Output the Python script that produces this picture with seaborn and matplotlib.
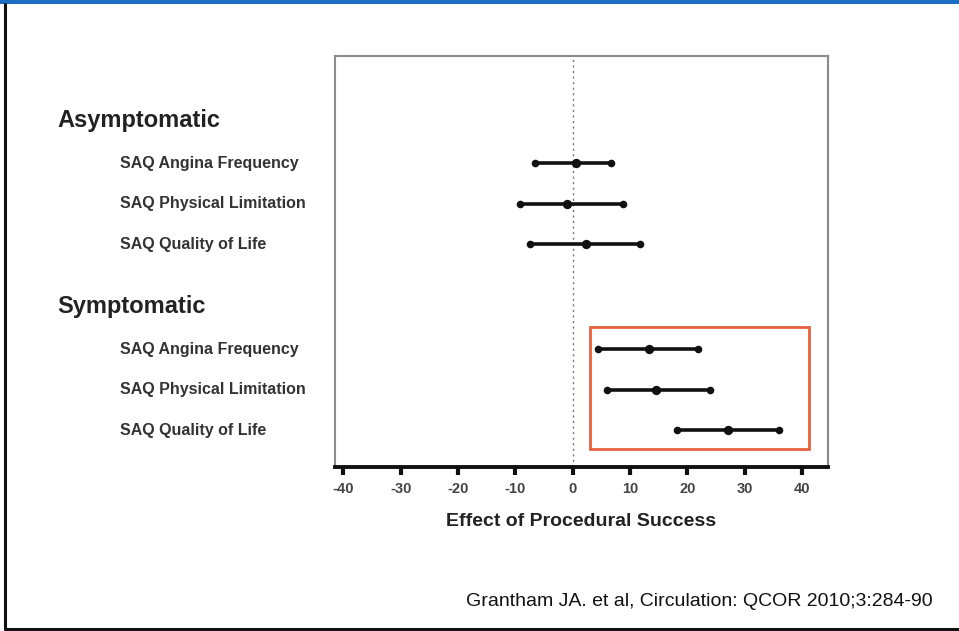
"""
Forest plot - effect of procedural success on SAQ scores.
"""

import matplotlib
matplotlib.use("Agg")
import matplotlib.pyplot as plt
import matplotlib.transforms as mtransforms
from matplotlib.lines import Line2D
from matplotlib.patches import Rectangle
import seaborn as sns
import pandas as pd

# Data
groups = ["Asymptomatic", "Symptomatic"]
outcomes = ["SAQ Angina Frequency", "SAQ Physical Limitation", "SAQ Quality of Life"]
asym_mean = [0.6, -1.0, 2.4]
asym_low = [-6.6, -9.2, -7.5]
asym_high = [6.7, 8.8, 11.7]
sym_mean = [13.4, 14.6, 27.2]
sym_low = [4.4, 6.0, 18.3]
sym_high = [21.8, 24.0, 36.1]
x_ticks = [-40, -30, -20, -10, 0, 10, 20, 30, 40]
citation = "Grantham JA. et al, Circulation: QCOR 2010;3:284-90"

sns.set_style("white")
plt.rcParams['font.family'] = ['Liberation Sans', 'DejaVu Sans']

# Build a long table, rows placed with a gap between groups
group_gap = 1.6
rows = []
for g, (means, lows, highs) in enumerate([(asym_mean, asym_low, asym_high),
                                          (sym_mean, sym_low, sym_high)]):
    for i, name in enumerate(outcomes):
        rows.append({
            "group": groups[g],
            "outcome": name,
            "mean": means[i],
            "low": lows[i],
            "high": highs[i],
            "ypos": g * (len(outcomes) + group_gap) + i,
        })
df = pd.DataFrame(rows)

fig = plt.figure(figsize=(9.59, 6.31), dpi=100)
ax = fig.add_axes([0.349, 0.260, 0.514, 0.651])

# zero reference
ax.axvline(0, color="#777777", linestyle=(0, (1.5, 2.5)), linewidth=1.0, zorder=1)

# CI lines
ax.hlines(df["ypos"], df["low"], df["high"], color="#111111", linewidth=2.6, zorder=2)
ends = pd.concat([df[["low", "ypos"]].rename(columns={"low": "x"}),
                  df[["high", "ypos"]].rename(columns={"high": "x"})])
sns.scatterplot(data=ends, x="x", y="ypos", ax=ax, color="#111111", s=30,
                marker="o", edgecolor="#111111", linewidth=0, zorder=3, legend=False)
sns.scatterplot(data=df, x="mean", y="ypos", ax=ax, color="#111111", s=45,
                marker="o", edgecolor="#111111", linewidth=0, zorder=3, legend=False)

# highlight box around symptomatic results
sym = df[df["group"] == "Symptomatic"]
ax.add_patch(Rectangle((3.0, sym["ypos"].min() - 0.55), 38.3,
                       sym["ypos"].max() - sym["ypos"].min() + 1.0,
                       fill=False, edgecolor="#E8603C", linewidth=2.0, zorder=4))

ax.set_xlim(-41.5, 44.5)
ax.set_ylim(7.5, -2.64)
ax.set_xticks(x_ticks)
ax.set_xticklabels([str(t) for t in x_ticks], fontsize=10.5, fontweight="bold", color="#444444")
ax.set_yticks([])
ax.set_xlabel("Effect of Procedural Success", fontsize=14, fontweight="bold",
              color="#222222", labelpad=12)
ax.set_ylabel("")
ax.tick_params(axis="x", bottom=True, direction="out", length=6, width=3,
               color="#111111", pad=5)

for side in ["top", "left", "right"]:
    ax.spines[side].set_color("#8a8a8a")
    ax.spines[side].set_linewidth(1.5)
ax.spines["bottom"].set_color("#111111")
ax.spines["bottom"].set_linewidth(2.8)

# row labels and group headers, x in figure coords, y in data coords
label_tf = mtransforms.blended_transform_factory(fig.transFigure, ax.transData)
for g, grp in enumerate(groups):
    sub = df[df["group"] == grp]
    ax.text(57 / 959, sub["ypos"].min() - 1.06, grp, transform=label_tf,
            fontsize=17, fontweight="bold", color="#222222", va="center", ha="left")
    for _, r in sub.iterrows():
        ax.text(120 / 959, r["ypos"], r["outcome"], transform=label_tf,
                fontsize=11.5, fontweight="bold", color="#333333", va="center", ha="left")

fig.text(0.973, 1 - 602 / 631, citation, fontsize=14, color="#111111",
         ha="right", va="center")

# slide frame: blue top bar and black left/bottom border
fig.add_artist(Rectangle((0, 1 - 4 / 631), 1, 4 / 631, transform=fig.transFigure,
                         facecolor="#1B6EC2", edgecolor="none"))
fig.add_artist(Line2D([5 / 959, 5 / 959], [2 / 631, 1 - 4 / 631], transform=fig.transFigure,
                      color="#111111", linewidth=2.2))
fig.add_artist(Line2D([5 / 959, 1], [2 / 631, 2 / 631], transform=fig.transFigure,
                      color="#111111", linewidth=2.2))

fig.savefig("out.png", dpi=100)
